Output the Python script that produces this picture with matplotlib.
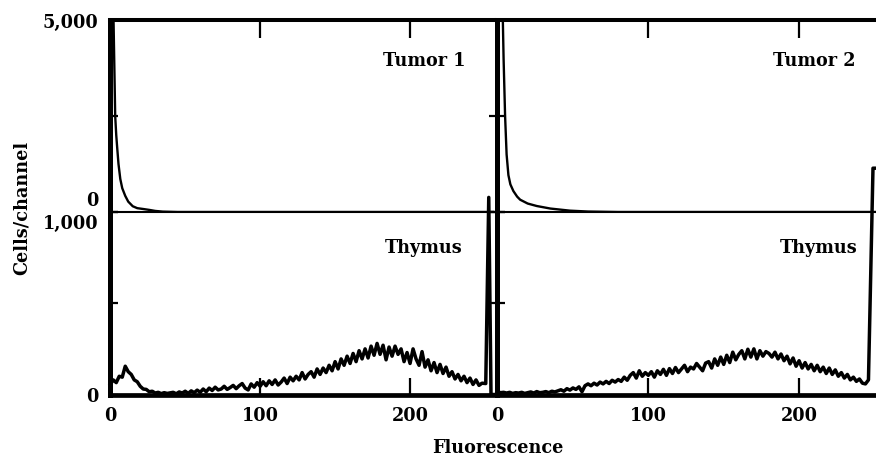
import numpy as np
import matplotlib
matplotlib.use("Agg")
import matplotlib.pyplot as plt
from matplotlib.transforms import ScaledTranslation

# ---------------- data ----------------
# Tumor histograms (cells/channel, top panels, 0-5000 scale)
tumor1_ch = [0, 1.3, 3.3, 4.0, 4.7, 5.5, 6.7, 8, 10, 12, 15, 18, 22, 26, 30, 35, 45, 120, 256]
tumor1_val = [7000, 7000, 2500, 2000, 1640, 1250, 860, 620, 420, 270, 150, 100, 78, 55, 28, 10, 0, 0, 0]
tumor2_ch = [0, 2.5, 4, 5, 6, 7.2, 8.5, 10.5, 13, 15, 20, 26, 35, 48, 60, 80, 150, 251]
tumor2_val = [7000, 7000, 4000, 2500, 1500, 960, 720, 545, 400, 320, 220, 156, 90, 35, 12, 0, 0, 0]

# Thymus histograms (cells/channel, bottom panels, 0-1000 scale), every 2 channels from 0
thymus1_val = [55, 80, 65, 100, 95, 155, 125, 110, 80, 70, 45,
               30, 28, 15, 18, 8, 12, 5, 10, 6, 9,
               12, 4, 14, 8, 18, 6, 20, 10, 24, 12,
               30, 15, 35, 22, 40, 25, 30, 45, 28, 38,
               50, 32, 48, 60, 35, 25, 58, 40, 65, 45,
               70, 48, 75, 55, 80, 52, 68, 90, 60, 95,
               75, 100, 80, 120, 85, 110, 125, 95, 140, 110,
               145, 120, 160, 130, 180, 140, 195, 160, 210, 170,
               225, 180, 240, 195, 250, 200, 265, 215, 280, 220,
               270, 190, 260, 210, 265, 220, 250, 180, 230, 170,
               250, 195, 160, 235, 150, 190, 130, 175, 120, 165,
               115, 150, 100, 125, 85, 110, 75, 100, 65, 90,
               55, 80, 50, 62]
thymus1_tail_ch = [250.5, 252.5, 254, 256]
thymus1_tail_val = [60, 1080, 0, 0]

thymus2_val = [15, 10, 12, 8, 12, 6, 10, 8, 12, 6, 10,
               14, 8, 16, 10, 12, 16, 10, 18, 14, 20,
               26, 18, 32, 24, 36, 28, 42, 15, 48, 58,
               48, 62, 52, 68, 58, 72, 60, 78, 68, 82,
               72, 95, 78, 105, 120, 90, 130, 100, 120, 105,
               125, 95, 130, 110, 138, 105, 142, 115, 148, 120,
               140, 160, 125, 150, 140, 170, 150, 130, 172, 180,
               145, 195, 160, 205, 165, 215, 175, 232, 190, 220,
               240, 195, 248, 205, 250, 195, 240, 210, 235, 225,
               205, 232, 195, 222, 185, 210, 168, 200, 155, 185,
               145, 175, 140, 165, 130, 160, 125, 150, 115, 145,
               110, 135, 100, 120, 90, 110, 80, 95, 72, 85,
               62, 58, 80]
thymus2_tail_ch = [249, 252]
thymus2_tail_val = [1240, 1240]

x_ticks = [0, 100, 200]
x_ticklabels = ["0", "100", "200"]
top_yticks = [0, 2500, 5000]
top_yticklabels = ["0", "", "5,000"]
bot_yticks = [0, 500, 1000]
bot_yticklabels = ["0", "", "1,000"]

# ---------------- figure ----------------
W, H = 876, 460
fig = plt.figure(figsize=(W / 100, H / 100), dpi=100)
plt.rcParams['font.family'] = ['DejaVu Serif']

def fx(px):
    return px / W

def fy(py):
    return 1 - py / H

cols = [
    dict(x0=109.5, x1=494, xlim=(-0.5, 256), tch=tumor1_ch, tval=tumor1_val,
         tv=thymus1_val, tailc=thymus1_tail_ch, tailv=thymus1_tail_val,
         tlabel="Tumor 1", first=True, tx=0.925, hx=0.919),
    dict(x0=496.5, x1=876, xlim=(-0.7, 251), tch=tumor2_ch, tval=tumor2_val,
         tv=thymus2_val, tailc=thymus2_tail_ch, tailv=thymus2_tail_val,
         tlabel="Tumor 2", first=False, tx=0.945, hx=0.95),
]

top_y0, mid_y, bot_y1 = 21, 213, 395.5
fs = 12.7
for c in cols:
    axt = fig.add_axes([fx(c['x0']), fy(mid_y), fx(c['x1'] - c['x0']), (mid_y - top_y0) / H])
    axb = fig.add_axes([fx(c['x0']), fy(bot_y1), fx(c['x1'] - c['x0']), (bot_y1 - mid_y) / H])
    for ax in (axt, axb):
        ax.set_xlim(*c['xlim'])
        ax.spines['right'].set_visible(False)
        ax.spines['left'].set_linewidth(3.6)
        ax.set_facecolor('none')
    axt.set_ylim(0, 5000)
    axb.set_ylim(0, 1000)
    axt.spines['top'].set_linewidth(2.9)
    axt.spines['bottom'].set_linewidth(1.5)
    axb.spines['top'].set_visible(False)
    axb.spines['bottom'].set_linewidth(3.4)

    # curves
    axt.plot(c['tch'], c['tval'], color='black', lw=1.7, solid_joinstyle='round')
    ch = list(np.arange(0, 2 * len(c['tv']), 2)) + c['tailc']
    vals = c['tv'] + c['tailv']
    axb.plot(ch, vals, color='black', lw=2.5, clip_on=False, solid_joinstyle='round')

    # ticks
    axt.set_xticks(x_ticks)
    axt.tick_params(axis='x', which='both', direction='in', top=True, bottom=False,
                    labeltop=False, labelbottom=False, length=13, width=1.6)
    axb.set_xticks(x_ticks)
    axb.set_xticklabels(x_ticklabels, fontsize=fs, fontweight='bold')
    axb.tick_params(axis='x', direction='in', length=12, width=1.6, pad=8)
    axt.set_yticks(top_yticks)
    axb.set_yticks(bot_yticks)
    ydir = 'in' if c['first'] else 'inout'
    ylen = 6 if c['first'] else 12
    for ax in (axt, axb):
        ax.tick_params(axis='y', direction=ydir, length=ylen, width=1.6, pad=8)
    if c['first']:
        axt.set_yticklabels(top_yticklabels, fontsize=fs, fontweight='bold')
        axb.set_yticklabels(bot_yticklabels, fontsize=fs, fontweight='bold')
        lbl = axt.get_yticklabels()[0]
        lbl.set_transform(lbl.get_transform() + ScaledTranslation(0, 14 / 100, fig.dpi_scale_trans))
        lbl = axb.get_yticklabels()[2]
        lbl.set_transform(lbl.get_transform() + ScaledTranslation(0, -9 / 100, fig.dpi_scale_trans))
    else:
        axt.set_yticklabels([])
        axb.set_yticklabels([])

    # panel labels
    axt.text(c['tx'], 0.79, c['tlabel'], transform=axt.transAxes, ha='right', va='center',
             fontsize=fs, fontweight='bold')
    axb.text(c['hx'], 0.81, "Thymus", transform=axb.transAxes, ha='right', va='center',
             fontsize=fs, fontweight='bold')

fig.text(fx(498), fy(448), "Fluorescence", ha='center', va='center', fontsize=fs, fontweight='bold')
fig.text(fx(22), fy(208), "Cells/channel", ha='center', va='center', rotation=90,
         fontsize=fs, fontweight='bold')

fig.savefig("out.png", dpi=100)
